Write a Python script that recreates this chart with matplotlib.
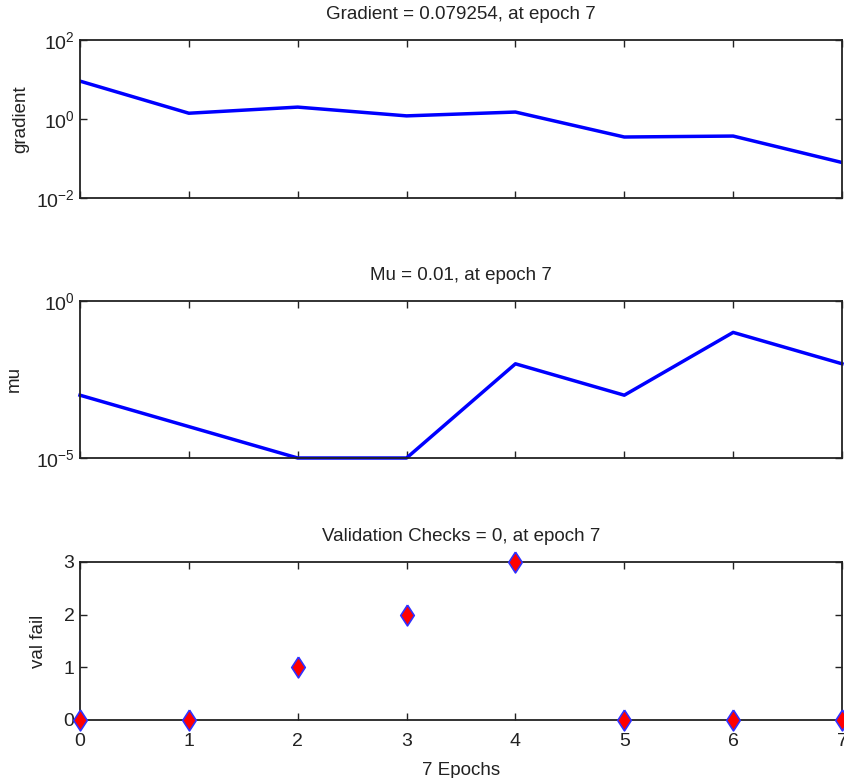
import matplotlib
matplotlib.use("Agg")
import matplotlib.pyplot as plt
from matplotlib.ticker import FixedLocator, NullLocator

plt.rcParams['font.family'] = ['Liberation Sans', 'DejaVu Sans']
plt.rcParams['mathtext.fontset'] = 'custom'
plt.rcParams['mathtext.rm'] = 'Liberation Sans'
plt.rcParams['axes.unicode_minus'] = False

epochs = [0, 1, 2, 3, 4, 5, 6, 7]
gradient = [9.1, 1.4, 2.0, 1.2, 1.5, 0.35, 0.37, 0.079254]
mu = [1e-3, 1e-4, 1e-5, 1e-5, 1e-2, 1e-3, 1e-1, 1e-2]
val_fail = [0, 0, 1, 2, 3, 0, 0, 0]

titles = ["Gradient = 0.079254, at epoch 7",
          "Mu = 0.01, at epoch 7",
          "Validation Checks = 0, at epoch 7"]
ylabels = ["gradient", "mu", "val fail"]
xlabel = "7 Epochs"

W, H = 844, 778
fig = plt.figure(figsize=(W / 100, H / 100), dpi=100)

def ax_at(left, top, right, bottom):
    return fig.add_axes([left / W, 1 - bottom / H, (right - left) / W, (bottom - top) / H])

ax1 = ax_at(80, 40, 842, 198)
ax2 = ax_at(80, 301, 842, 458)
ax3 = ax_at(80, 562, 842, 720)

text_color = '#222222'
title_fs = 13.5
for ax in (ax1, ax2, ax3):
    ax.set_xlim(0, 7)
    ax.xaxis.set_major_locator(FixedLocator(epochs))
    ax.tick_params(direction='in', top=True, right=True, length=5, width=1,
                   labelsize=14, colors='#222222', labelcolor=text_color)
    ax.tick_params(axis='y', pad=4)
    ax.tick_params(axis='x', pad=9)
    for s in ax.spines.values():
        s.set_linewidth(1.3)
        s.set_color('#222222')

# Gradient
ax1.plot(epochs, gradient, color='#0000ff', lw=2.5)
ax1.set_yscale('log')
ax1.set_ylim(1e-2, 1e2)
ax1.yaxis.set_major_locator(FixedLocator([1e-2, 1e0, 1e2]))
ax1.yaxis.set_minor_locator(NullLocator())
ax1.set_xticklabels([])
ax1.set_title(titles[0], fontsize=title_fs, color=text_color, pad=15)
ax1.set_ylabel(ylabels[0], fontsize=title_fs, color=text_color, labelpad=5)

# Mu
ax2.plot(epochs, mu, color='#0000ff', lw=2.5, clip_on=False)
ax2.set_yscale('log')
ax2.set_ylim(1e-5, 1e0)
ax2.yaxis.set_major_locator(FixedLocator([1e-5, 1e0]))
ax2.yaxis.set_minor_locator(NullLocator())
ax2.set_xticklabels([])
ax2.set_title(titles[1], fontsize=title_fs, color=text_color, pad=15)
ax2.set_ylabel(ylabels[1], fontsize=title_fs, color=text_color, labelpad=9)

# Validation checks
diamond = [(0, 1), (0.65, 0), (0, -1), (-0.65, 0), (0, 1)]
ax3.plot(epochs, val_fail, linestyle='none', marker=diamond, markersize=15,
         markerfacecolor='#ff0000', markeredgecolor='#3030ff', markeredgewidth=1.2,
         clip_on=False, zorder=5)
ax3.set_ylim(0, 3)
ax3.yaxis.set_major_locator(FixedLocator([0, 1, 2, 3]))
ax3.set_title(titles[2], fontsize=title_fs, color=text_color, pad=15)
ax3.set_ylabel(ylabels[2], fontsize=title_fs, color=text_color, labelpad=12)
ax3.set_xlabel(xlabel, fontsize=title_fs, color=text_color, labelpad=9)

fig.savefig("out.png", dpi=100)
